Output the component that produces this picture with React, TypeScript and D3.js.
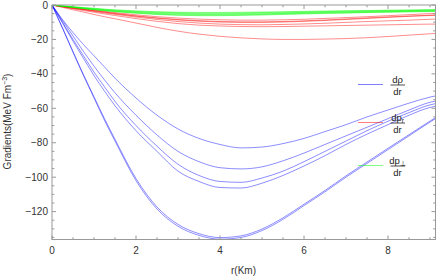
import React, { useEffect, useRef } from 'react';
import * as d3 from 'd3';

// radial grid (km) shared by every series
const rGrid = [0, 0.25, 0.5, 0.75, 1, 1.25, 1.5, 2, 2.5, 3, 3.5, 4, 4.5, 5, 5.5, 6, 6.5, 7, 7.5, 8, 8.5, 9, 9.13];

// d rho / dr (blue)
const rhoA = [0, -8.5, -16, -23, -29.5, -36, -42.5, -54, -64, -72, -77.5, -81, -83, -82.5, -80.5, -77.5, -73.5, -69.5, -65, -61, -57, -53.5, -52.8];
const rhoB = [0, -9, -18, -27, -35.5, -43.5, -51, -64, -75.5, -85, -91, -94.5, -95.2, -94, -90.5, -86, -81, -76, -71, -66, -61, -56.5, -55.8];
const rhoC = [0, -10, -20, -29.5, -39, -47.5, -56, -70, -82, -92.5, -99, -102.5, -103, -100.5, -96.5, -91, -85, -79, -73, -67.5, -62.5, -58, -57.3];
const rhoD = [0, -10.5, -21, -31, -41, -50, -58.5, -73, -85, -96.5, -102.5, -106, -106.3, -103.5, -99, -93.5, -87.5, -81, -75, -69.5, -64, -59.5, -58.8];
const rhoE = [0, -13.5, -27.5, -41, -54, -67, -79, -102, -118.5, -128.5, -133.8, -136, -135, -131, -124.5, -116.5, -108.5, -100, -92, -84, -76, -68, -66];
const rhoF = [0, -13.3, -27, -40.5, -53.3, -66, -78, -100.8, -117.3, -127.4, -132.8, -135.1, -134.1, -130.1, -123.6, -115.7, -107.7, -99.2, -91.2, -83.2, -75.3, -67.4, -65.4];

// d p_r / dr (red)
const prA = [0, -0.8, -1.5, -2.3, -3, -3.7, -4.4, -5.7, -6.8, -7.6, -8.2, -8.6, -8.8, -8.8, -8.6, -8.3, -7.8, -7.3, -6.8, -6.2, -5.6, -5.0, -4.9];
const prB = [0, -0.9, -1.7, -2.5, -3.3, -4.1, -4.9, -6.3, -7.5, -8.4, -9.1, -9.6, -9.8, -9.8, -9.6, -9.2, -8.7, -8.1, -7.5, -6.9, -6.4, -5.9, -5.8];
const prC = [0, -0.9, -1.8, -2.6, -3.4, -4.2, -5, -6.5, -7.7, -8.7, -9.4, -9.9, -10.1, -10.1, -9.9, -9.5, -9, -8.4, -7.8, -7.2, -6.6, -6.1, -6];
const prD = [0, -1, -1.9, -2.8, -3.7, -4.6, -5.4, -7, -8.4, -9.6, -10.5, -11.1, -11.4, -11.5, -11.3, -11, -10.6, -10.1, -9.6, -9.2, -8.8, -8.3, -8.2];
const prE = [0, -1.1, -2.2, -3.2, -4.2, -5.2, -6.1, -7.9, -9.5, -10.8, -11.7, -12.2, -12.5, -12.6, -12.5, -12.3, -12.1, -11.9, -11.7, -11.5, -11.3, -11.1, -11.1];
const prF = [0, -1.4, -2.8, -4.1, -5.5, -6.8, -8, -10.5, -13, -15.2, -16.9, -18.2, -19.1, -19.7, -20, -20, -19.8, -19.5, -19, -18.3, -17.5, -16.7, -16.5];

// d p_perp / dr (green)
const ptA = [0, -0.5, -1, -1.5, -1.9, -2.4, -2.8, -3.4, -3.9, -4.2, -4.3, -4.3, -4.2, -4.1, -3.9, -3.7, -3.5, -3.3, -3.2, -3, -2.9, -2.7, -2.7];
const ptB = [0, -0.6, -1.1, -1.6, -2.1, -2.6, -3, -3.7, -4.2, -4.5, -4.7, -4.7, -4.6, -4.4, -4.2, -4, -3.8, -3.6, -3.4, -3.2, -3.1, -2.9, -2.9];
const ptC = [0, -0.6, -1.2, -1.8, -2.3, -2.8, -3.3, -4, -4.6, -4.9, -5.1, -5.1, -5, -4.8, -4.6, -4.3, -4.1, -3.9, -3.7, -3.5, -3.3, -3.1, -3.1];
const ptD = [0, -0.7, -1.3, -1.9, -2.5, -3, -3.5, -4.3, -4.9, -5.3, -5.5, -5.5, -5.4, -5.2, -4.9, -4.6, -4.4, -4.2, -4, -3.8, -3.6, -3.4, -3.3];
const ptE = [0, -0.7, -1.4, -2, -2.6, -3.2, -3.7, -4.6, -5.3, -5.7, -5.9, -5.9, -5.8, -5.5, -5.2, -4.9, -4.7, -4.5, -4.2, -4, -3.8, -3.6, -3.6];
const ptF = [0, -0.7, -1.4, -2.1, -2.7, -3.3, -3.9, -4.8, -5.5, -6, -6.2, -6.2, -6, -5.8, -5.5, -5.2, -4.9, -4.7, -4.4, -4.2, -4, -3.8, -3.8];

const xTicks = [0, 2, 4, 6, 8];
const yTicks = [0, -20, -40, -60, -80, -100, -120];

const groups = [
  { color: '#0000ff', series: [rhoA, rhoB, rhoC, rhoD, rhoE, rhoF] },
  { color: '#ff0000', series: [prA, prB, prC, prD, prE, prF] },
  { color: '#00ff00', series: [ptA, ptB, ptC, ptD, ptE, ptF] },
];

const App = () => {
  const ref = useRef(null);

  useEffect(() => {
    if (!ref.current) return;
    const svg = d3.select(ref.current);
    svg.selectAll('*').remove();

    const left = 52, right = 435.5, top = 5, bottom = 239.5;
    const x = d3.scaleLinear().domain([0, 9.13]).range([left, right]);
    const y = d3.scaleLinear().domain([-136.2, 0]).range([bottom, top]);
    const font = 'Liberation Sans, Arial, sans-serif';

    svg.append('defs').append('clipPath').attr('id', 'plot-clip')
      .append('rect').attr('x', left).attr('y', top)
      .attr('width', right - left).attr('height', bottom - top);

    // curves
    const line = d3.line<number>()
      .x((d, i) => x(rGrid[i]))
      .y(d => y(d))
      .curve(d3.curveMonotoneX);

    const plot = svg.append('g').attr('clip-path', 'url(#plot-clip)');
    groups.forEach(g => {
      g.series.forEach(s => {
        plot.append('path')
          .attr('d', line(s))
          .attr('fill', 'none')
          .attr('stroke', g.color)
          .attr('stroke-width', 0.9)
          .attr('stroke-opacity', 0.5);
      });
    });

    // frame
    const axisColor = '#999';
    svg.append('rect')
      .attr('x', left).attr('y', top)
      .attr('width', right - left).attr('height', bottom - top)
      .attr('fill', 'none').attr('stroke', axisColor).attr('stroke-width', 1);

    // ticks on all four sides, pointing inward
    const xMinor = d3.range(0, 9.13, 0.5);
    xMinor.forEach(v => {
      const major = Math.abs(v % 2) < 1e-6;
      const len = major ? 4 : 2.3;
      svg.append('line').attr('x1', x(v)).attr('x2', x(v))
        .attr('y1', bottom).attr('y2', bottom - len).attr('stroke', axisColor);
      svg.append('line').attr('x1', x(v)).attr('x2', x(v))
        .attr('y1', top).attr('y2', top + len).attr('stroke', axisColor);
    });
    const yMinor = d3.range(0, -136.2, -5);
    yMinor.forEach(v => {
      const major = Math.abs(v % 20) < 1e-6;
      const len = major ? 4 : 2.3;
      svg.append('line').attr('y1', y(v)).attr('y2', y(v))
        .attr('x1', left).attr('x2', left + len).attr('stroke', axisColor);
      svg.append('line').attr('y1', y(v)).attr('y2', y(v))
        .attr('x1', right).attr('x2', right - len).attr('stroke', axisColor);
    });

    // tick labels
    svg.append('g').selectAll('text').data(xTicks).enter().append('text')
      .attr('x', d => x(d)).attr('y', 254)
      .attr('text-anchor', 'middle')
      .style('font-family', font).style('font-size', '10px').style('fill', '#333')
      .text(d => String(d));

    svg.append('g').selectAll('text').data(yTicks).enter().append('text')
      .attr('x', 48).attr('y', d => y(d)).attr('dy', '0.35em')
      .attr('text-anchor', 'end')
      .style('font-family', font).style('font-size', '10px').style('fill', '#333')
      .text(d => (d < 0 ? '\u2212' + Math.abs(d) : String(d)));

    // axis titles
    svg.append('text')
      .attr('x', 243.5).attr('y', 273.5)
      .attr('text-anchor', 'middle')
      .style('font-family', font).style('font-size', '10px').style('fill', '#333')
      .text('r(Km)');

    const yl = svg.append('text')
      .attr('transform', 'translate(11,121.5) rotate(-90)')
      .attr('text-anchor', 'middle')
      .style('font-family', font).style('font-size', '10px').style('fill', '#333');
    yl.append('tspan').text('Gradients(MeV Fm');
    yl.append('tspan').attr('dy', -4).style('font-size', '7px').text('\u22123');
    yl.append('tspan').attr('dy', 4).text(')');

    // legend
    const legend = [
      { color: '#0000ff', y: 84.5, num: 'd\u03c1', sub: '' },
      { color: '#ff0000', y: 122.5, num: 'dp', sub: 'r' },
      { color: '#00ff00', y: 165.5, num: 'dp', sub: '\u22a5' },
    ];
    legend.forEach(l => {
      svg.append('line')
        .attr('x1', 358).attr('x2', 383).attr('y1', l.y).attr('y2', l.y)
        .attr('stroke', l.color).attr('stroke-opacity', 0.5).attr('stroke-width', 1);
      const num = svg.append('text')
        .attr('x', 397.5).attr('y', l.y - 2)
        .attr('text-anchor', 'middle')
        .style('font-family', font).style('font-size', '9.5px').style('fill', '#222');
      num.append('tspan').text(l.num);
      if (l.sub) {
        num.append('tspan').attr('dy', 2).style('font-size', '6.5px').text(l.sub);
      }
      svg.append('line')
        .attr('x1', 390.5).attr('x2', 405).attr('y1', l.y + 0.5).attr('y2', l.y + 0.5)
        .attr('stroke', '#222').attr('stroke-width', 0.8);
      svg.append('text')
        .attr('x', 397.5).attr('y', l.y + 10)
        .attr('text-anchor', 'middle')
        .style('font-family', font).style('font-size', '9.5px').style('fill', '#222')
        .text('dr');
    });
  }, []);

  return (
    <svg
      ref={ref}
      width={436}
      height={276}
      style={{ position: 'absolute', left: 0, top: 0, background: 'white' }}
    />
  );
};

export default App;
